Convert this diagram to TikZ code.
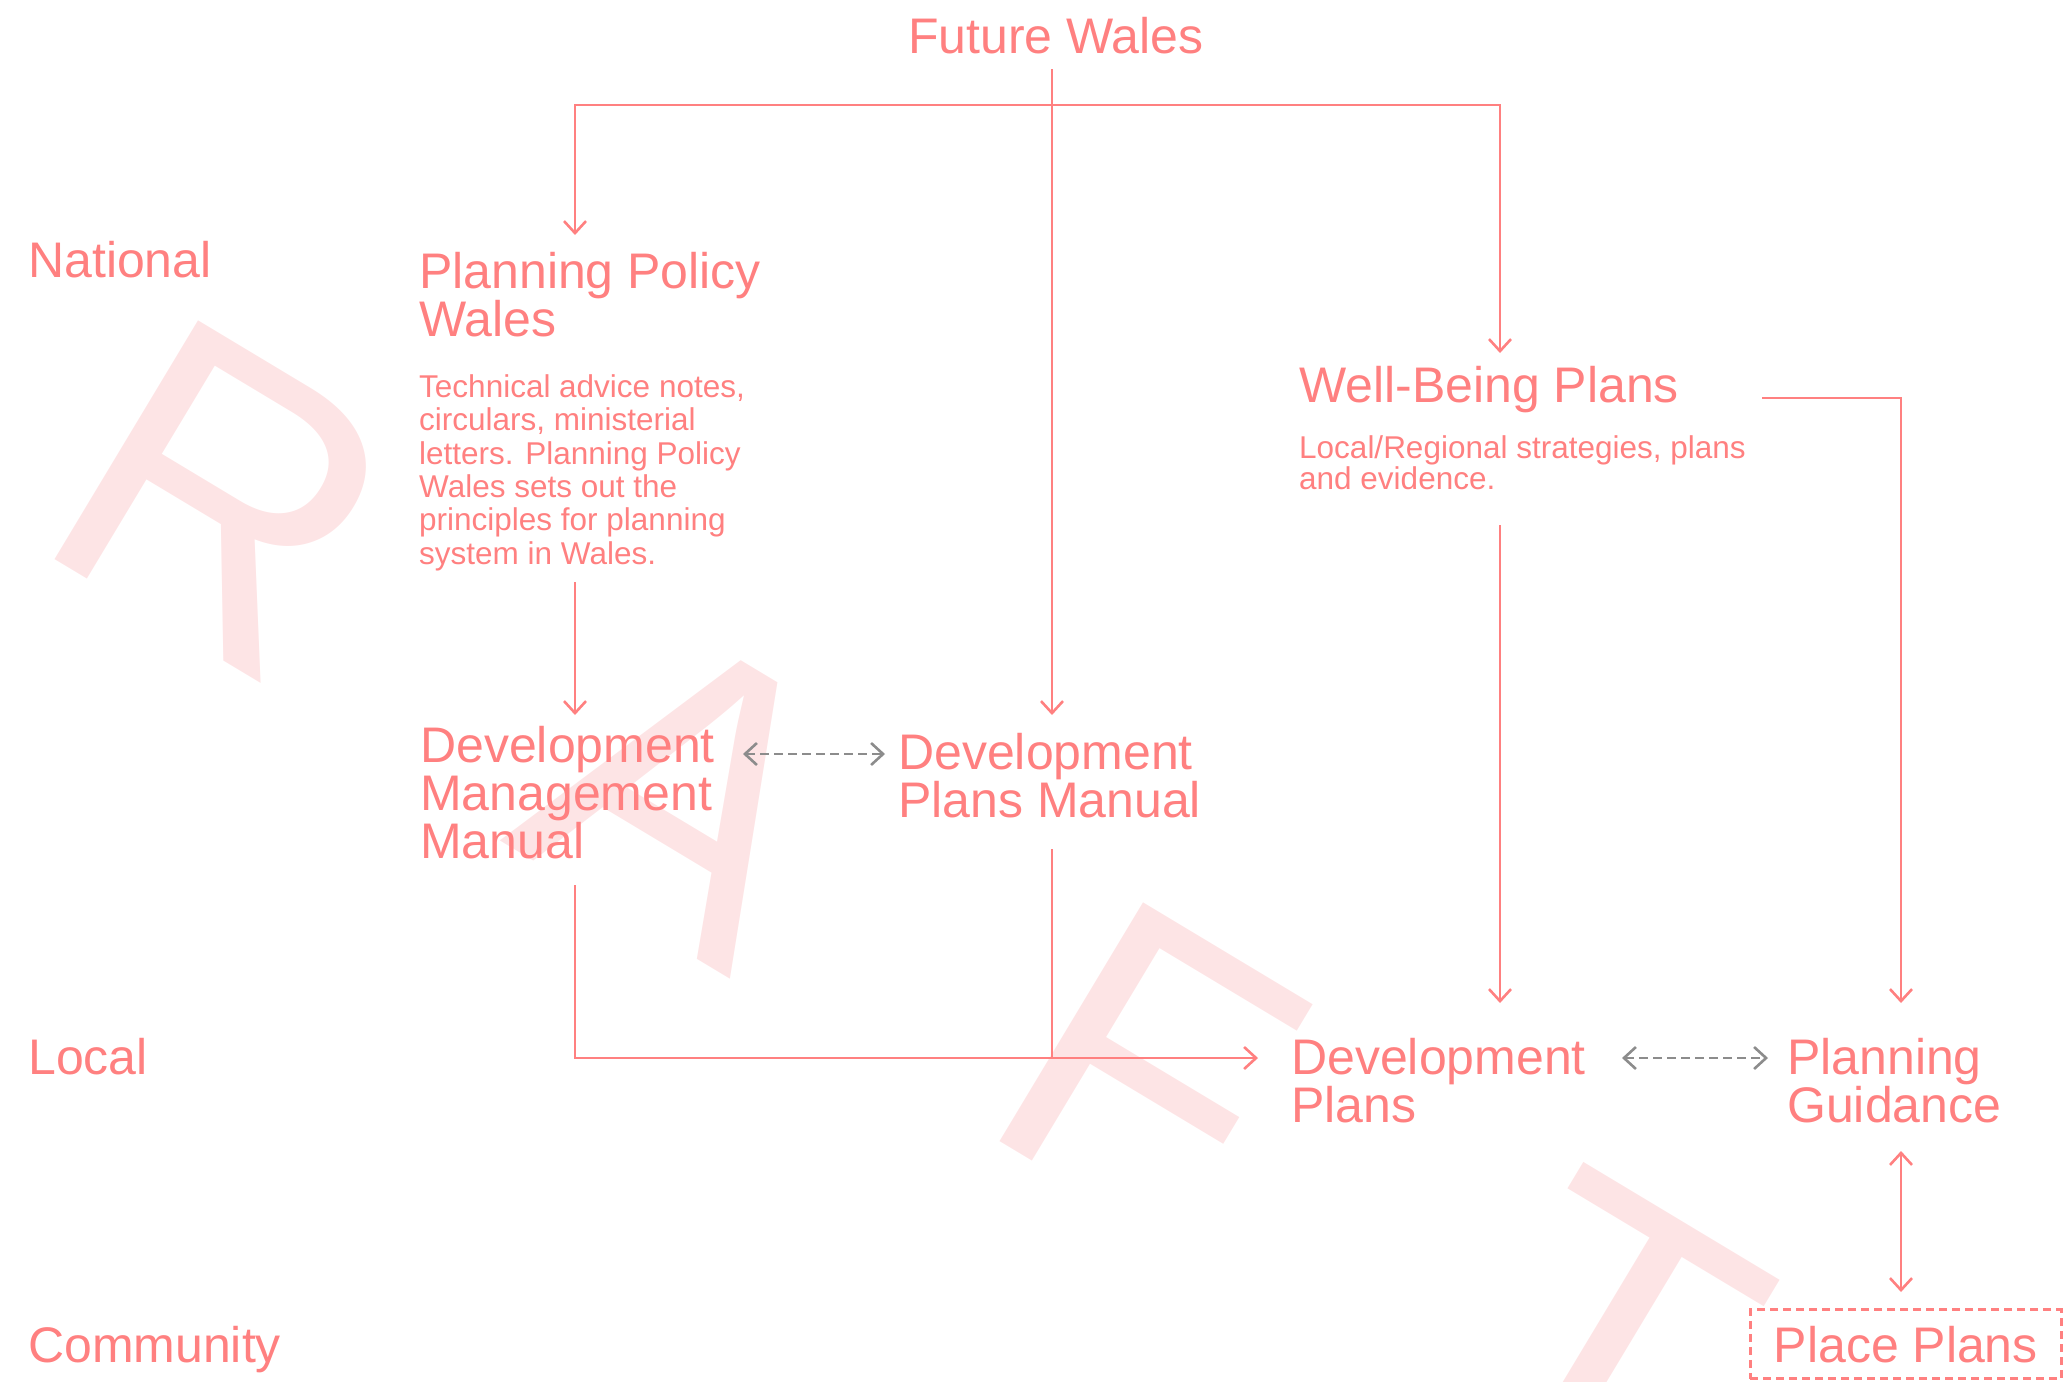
\documentclass[tikz,border=0pt]{standalone}
\usepackage{fontspec}
\setmainfont{Liberation Sans}
\usetikzlibrary{arrows.meta}
\definecolor{wales}{HTML}{FF8080}
\definecolor{shade}{HTML}{FDE4E5}
\definecolor{grey}{HTML}{8C8C8C}

\begin{document}
\begin{tikzpicture}[
    x=1pt, y=-1pt,
    >={Straight Barb[length=12pt,width=22pt]},
    every node/.style={inner sep=0pt, anchor=base west, text=wales},
    head/.style={font=\fontsize{50}{48}\selectfont, align=left},
    note/.style={font=\fontsize{31.5}{33.3}\selectfont, align=left},
    faint/.style={font=\fontsize{405}{405}\selectfont, text=shade, rotate=-31},
    wire/.style={draw=wales, line width=2.6pt},
    twin/.style={draw=grey, line width=2.6pt, dash pattern=on 9pt off 5pt, <->},
    place/.style={head, draw=wales, line width=2.6pt, dash pattern=on 8pt off 5pt,
        inner xsep=23.5pt, inner ysep=16pt}
]
\useasboundingbox (0,0) rectangle (2065,1382);

% watermark
\node[faint] (w1) at (26,542) {R};
\node[faint] (w2) at (499,840) {A};
\node[faint] (w3) at (971,1124) {F};
\node[faint] (w4) at (1432,1396) {T};

% levels
\node[head] (N) at (28,277) {National};
\node[head] (L) at (28,1074) {Local};
\node[head] (C) at (28,1362) {Community};

% multi-line nodes sit on the baseline of their last line
\node[head] (T) at (908,53) {Future Wales};
\node[head] (1) at (419,336) {Planning Policy\\Wales};
\node[note] (1-1) at (419,564) {Technical advice notes,\\circulars, ministerial\\letters. Planning Policy\\Wales sets out the\\principles for planning\\system in Wales.};
\node[head] (1-2) at (420,858) {Development\\Management\\Manual};
\node[head] (2) at (898,817) {Development\\Plans Manual};
\node[head] (3) at (1299,402) {Well-Being Plans};
\node[note, font=\fontsize{31.5}{29}\selectfont] (3-1) at (1299,489) {Local/Regional strategies, plans\\and evidence.};
\node[head] (4) at (1291,1122) {Development\\Plans};
\node[head] (5) at (1787,1122) {Planning\\Guidance};
\node[place] (5-1) at (1749,1362) {Place Plans};

% connector ends
\coordinate (T-out) at (1052,69);
\coordinate (T-split) at (1052,105);
\coordinate (1-in) at (575,235);
\coordinate (3-in) at (1500,353);
\coordinate (2-in) at (1052,715);
\coordinate (1-1-out) at (575,582);
\coordinate (1-2-in) at (575,715);
\coordinate (1-2-out) at (575,885);
\coordinate (1-2-r) at (743,754);
\coordinate (2-l) at (885,754);
\coordinate (2-out) at (1052,849);
\coordinate (4-in) at (1258,1058);
\coordinate (3-1-out) at (1500,525);
\coordinate (4-top) at (1500,1003);
\coordinate (3-out) at (1762,398);
\coordinate (5-in) at (1901,1003);
\coordinate (4-r) at (1622,1058);
\coordinate (5-l) at (1768,1058);
\coordinate (5-out) at (1901,1151);
\coordinate (5-1-in) at (1901,1292);

\draw[wire, ->] (T-out) -- (2-in);
\draw[wire, <->] (1-in) |- (T-split) -| (3-in);
\draw[wire, ->] (1-1-out) -- (1-2-in);
\draw[twin] (1-2-r) -- (2-l);
\draw[wire, ->] (1-2-out) |- (4-in);
\draw[wire] (2-out) -- (2-out |- 4-in);
\draw[wire, ->] (3-1-out) -- (4-top);
\draw[wire, ->] (3-out) -| (5-in);
\draw[twin] (4-r) -- (5-l);
\draw[wire, <->] (5-out) -- (5-1-in);

\end{tikzpicture}
\end{document}
